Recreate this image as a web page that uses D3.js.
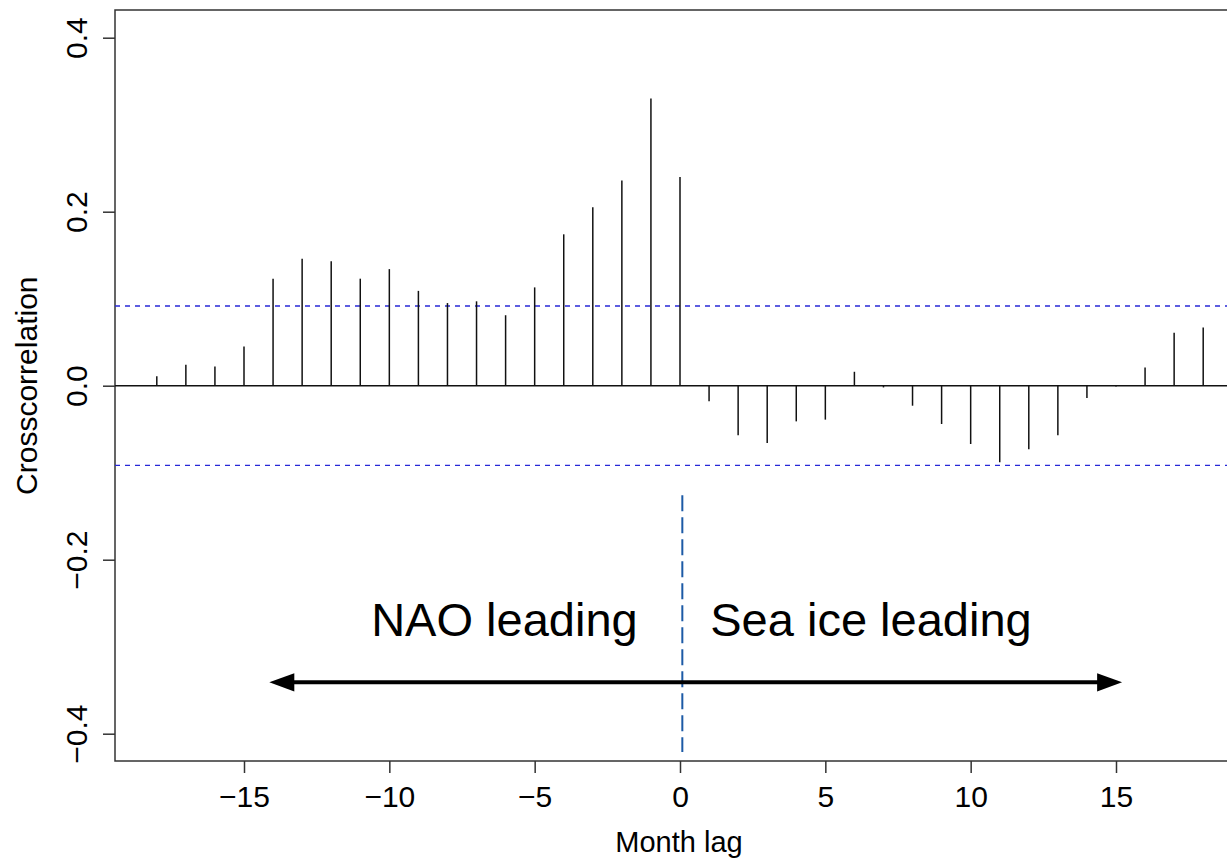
<!DOCTYPE html>
<html>
<head>
<meta charset="utf-8">
<script src="https://cdn.jsdelivr.net/npm/d3@7"></script>
<style>
  html, body { margin: 0; padding: 0; background: #fff; overflow: hidden; }
  svg { display: block; }
  text { font-family: "Liberation Sans", Arial, Helvetica, sans-serif; fill: #000; }
</style>
</head>
<body>
<svg id="chart" width="1227" height="859"></svg>
<script>
// ---- data ----
const lags = [-18,-17,-16,-15,-14,-13,-12,-11,-10,-9,-8,-7,-6,-5,-4,-3,-2,-1,0,1,2,3,4,5,6,7,8,9,10,11,12,13,14,15,16,17,18];
const ccf = [0.011,0.024,0.022,0.045,0.123,0.146,0.143,0.123,0.134,0.109,0.095,0.097,0.081,0.113,0.174,0.205,0.236,0.330,0.240,
             -0.018,-0.057,-0.066,-0.041,-0.039,0.016,-0.002,-0.023,-0.044,-0.067,-0.088,-0.073,-0.057,-0.014,-0.001,0.021,0.061,0.067];
const confLimit = 0.0916;
const xTicks = [-15,-10,-5,0,5,10,15];
const yTicks = [-0.4,-0.2,0.0,0.2,0.4];
const xLabel = "Month lag";
const yLabel = "Crosscorrelation";
const labelLeft = "NAO leading";
const labelRight = "Sea ice leading";
// annotation positions in data units
const labelLeftPos = [-6.04, -0.288];
const labelRightPos = [6.57, -0.288];
const arrowX = [-14.13, 15.21];
const arrowY = -0.341;
const splitX = 0.08;
const splitY = [-0.126, -0.421];

// ---- layout ----
const svg = d3.select("#chart");
const box = {left: 115, top: 10, right: 1240, bottom: 761};
const x = d3.scaleLinear().domain([-15, 15]).range([244, 1116]);
const y = d3.scaleLinear().domain([-0.4, 0.4]).range([733.7, 37.7]);
const fmtY = d => d === 0 ? "0.0" : d3.format(".1f")(d).replace("-", "\u2212");
const fmtX = d => String(d).replace("-", "\u2212");

// box
svg.append("rect")
  .attr("x", box.left).attr("y", box.top)
  .attr("width", box.right - box.left).attr("height", box.bottom - box.top)
  .attr("fill", "none").attr("stroke", "#333").attr("stroke-width", 1.5);

// x axis
const xAxis = svg.append("g")
  .attr("transform", `translate(0,${box.bottom})`)
  .call(d3.axisBottom(x).tickValues(xTicks).tickSize(12).tickFormat(fmtX));
xAxis.select(".domain").remove();
xAxis.selectAll(".tick line").attr("stroke", "#333").attr("stroke-width", 1.5);
xAxis.selectAll(".tick text")
  .attr("y", 46).attr("dy", null)
  .style("font-size", "30px").style("font-family", "'Liberation Sans', Arial, sans-serif").attr("fill", "#000");

// y axis
const yAxis = svg.append("g")
  .attr("transform", `translate(${box.left},0)`)
  .call(d3.axisLeft(y).tickValues(yTicks).tickSize(12).tickFormat(fmtY));
yAxis.select(".domain").remove();
yAxis.selectAll(".tick line").attr("stroke", "#333").attr("stroke-width", 1.5);
yAxis.selectAll(".tick text")
  .attr("x", null).attr("dy", null)
  .attr("text-anchor", "middle")
  .attr("transform", "translate(-28,0) rotate(-90)")
  .style("font-size", "30px").style("font-family", "'Liberation Sans', Arial, sans-serif").attr("fill", "#000");

// axis titles
svg.append("text")
  .attr("x", 679).attr("y", 852)
  .attr("text-anchor", "middle").style("font-size", "29px")
  .text(xLabel);
svg.append("text")
  .attr("transform", `translate(37,${y(0)}) rotate(-90)`)
  .attr("text-anchor", "middle").style("font-size", "30px")
  .text(yLabel);

// zero line
svg.append("line")
  .attr("x1", box.left).attr("x2", box.right)
  .attr("y1", y(0)).attr("y2", y(0))
  .attr("stroke", "#111").attr("stroke-width", 1.5);

// confidence lines
svg.selectAll("line.conf").data([confLimit, -confLimit]).enter().append("line")
  .attr("class", "conf")
  .attr("x1", box.left).attr("x2", box.right)
  .attr("y1", d => y(d)).attr("y2", d => y(d))
  .attr("stroke", "#2828d8").attr("stroke-width", 1.4)
  .attr("stroke-dasharray", "5,5");

// ccf spikes
svg.selectAll("line.spike").data(lags.map((l, i) => ({lag: l, v: ccf[i]}))).enter().append("line")
  .attr("class", "spike")
  .attr("x1", d => x(d.lag)).attr("x2", d => x(d.lag))
  .attr("y1", y(0)).attr("y2", d => y(d.v))
  .attr("stroke", "#111").attr("stroke-width", 1.5);

// split line
svg.append("line")
  .attr("x1", x(splitX)).attr("x2", x(splitX))
  .attr("y1", y(splitY[0])).attr("y2", y(splitY[1]))
  .attr("stroke", "#1c5aa6").attr("stroke-width", 2)
  .attr("stroke-dasharray", "16,6");

// double arrow
const ay = y(arrowY), ax0 = x(arrowX[0]), ax1 = x(arrowX[1]);
const headLen = 25, headHalf = 9.2;
svg.append("line")
  .attr("x1", ax0 + headLen - 2).attr("x2", ax1 - headLen + 2)
  .attr("y1", ay).attr("y2", ay)
  .attr("stroke", "#000").attr("stroke-width", 4);
svg.append("path")
  .attr("d", `M${ax0},${ay} L${ax0 + headLen},${ay - headHalf} L${ax0 + headLen},${ay + headHalf} Z`)
  .attr("fill", "#000");
svg.append("path")
  .attr("d", `M${ax1},${ay} L${ax1 - headLen},${ay - headHalf} L${ax1 - headLen},${ay + headHalf} Z`)
  .attr("fill", "#000");

// annotation labels
svg.append("text")
  .attr("x", x(labelLeftPos[0])).attr("y", y(labelLeftPos[1]))
  .attr("text-anchor", "middle").style("font-size", "47px")
  .text(labelLeft);
svg.append("text")
  .attr("x", x(labelRightPos[0])).attr("y", y(labelRightPos[1]))
  .attr("text-anchor", "middle").style("font-size", "47px")
  .text(labelRight);
</script>
</body>
</html>
